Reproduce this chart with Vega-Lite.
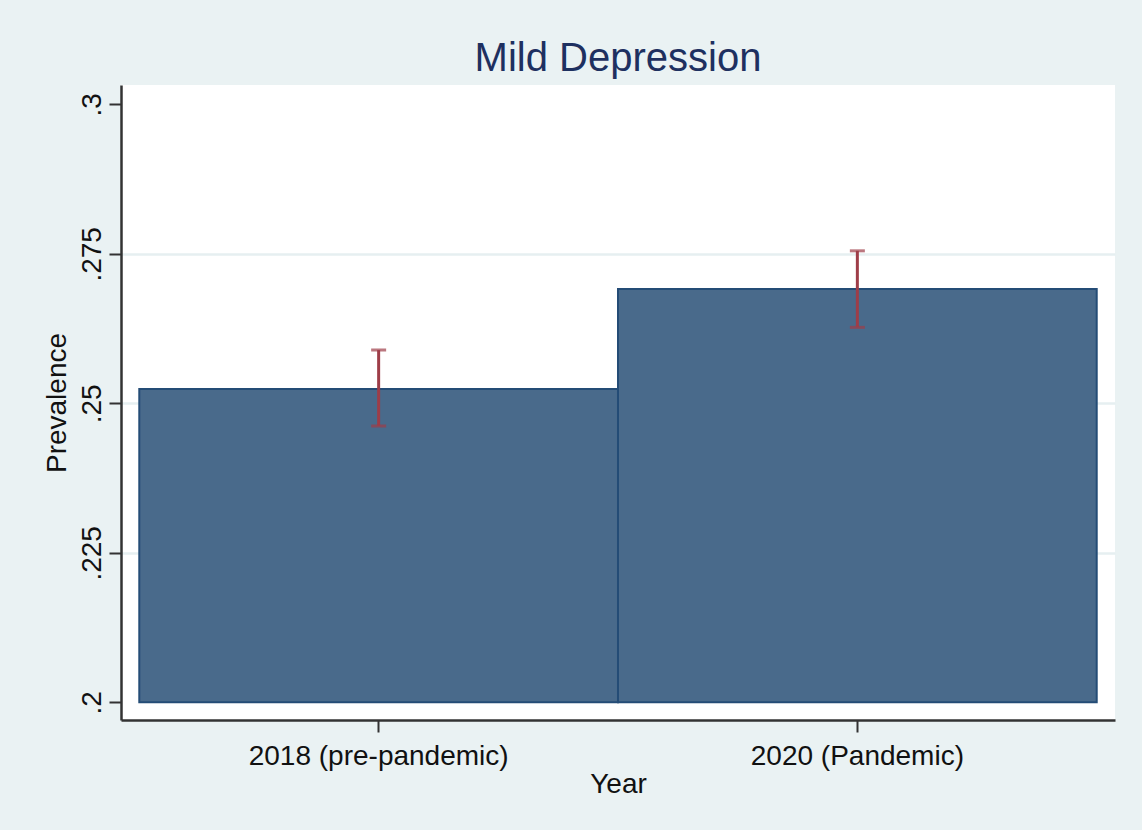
{
  "$schema": "https://vega.github.io/schema/vega-lite/v6.json",
  "width": 994,
  "height": 635,
  "autosize": {"type": "none"},
  "padding": {"left": 121, "top": 85, "right": 27, "bottom": 110},
  "background": "#eaf2f3",
  "config": {
    "font": "Liberation Sans",
    "view": {"fill": "#ffffff", "stroke": null}
  },
  "title": {
    "text": "Mild Depression",
    "font": "Liberation Sans",
    "fontSize": 40,
    "fontWeight": "normal",
    "color": "#1e3060",
    "anchor": "middle",
    "frame": "group",
    "baseline": "alphabetic",
    "offset": -26
  },
  "data": {
    "values": [
      {"year": "2018 (pre-pandemic)", "prev": 0.2524, "lo": 0.2462, "hi": 0.2589},
      {"year": "2020 (Pandemic)", "prev": 0.2691, "lo": 0.2627, "hi": 0.2755}
    ]
  },
  "encoding": {
    "x": {
      "field": "year",
      "type": "nominal",
      "sort": null,
      "scale": {"paddingInner": 0, "paddingOuter": 0.0382},
      "axis": {
        "title": "Year",
        "labelAngle": 0,
        "labelFontSize": 28,
        "labelLimit": 0,
        "labelColor": "#111111",
        "labelBaseline": "alphabetic",
        "labelPadding": 32,
        "tickSize": 12,
        "tickWidth": 2,
        "tickColor": "#333333",
        "domainColor": "#333333",
        "domainWidth": 2.5,
        "titleFontSize": 28,
        "titleFontWeight": "normal",
        "titleColor": "#111111",
        "titlePadding": 0,
        "grid": false
      }
    }
  },
  "layer": [
    {
      "mark": {"type": "bar", "fill": "#496a8b", "stroke": "#244c76", "strokeWidth": 2},
      "encoding": {
        "y": {
          "field": "prev",
          "type": "quantitative",
          "scale": {"domain": [0.19704, 0.30323], "nice": false, "zero": false},
          "axis": {
            "title": "Prevalence",
            "values": [0.2, 0.225, 0.25, 0.275, 0.3],
            "labelExpr": "substring(format(datum.value, '.3~f'), 1)",
            "labelAngle": -90,
            "labelAlign": "center",
            "labelBaseline": "alphabetic",
            "labelFontSize": 28,
            "labelColor": "#111111",
            "labelPadding": 9,
            "tickSize": 12,
            "tickWidth": 2,
            "tickColor": "#333333",
            "domainColor": "#333333",
            "domainWidth": 2.5,
            "grid": true,
            "gridColor": "#e6eff1",
            "gridWidth": 2.5,
            "gridOpacity": {"condition": {"test": "datum.value < 0.21 || datum.value > 0.29", "value": 0}, "value": 1},
            "titleFontSize": 28,
            "titleFontWeight": "normal",
            "titleColor": "#111111",
            "titlePadding": 7
          }
        },
        "y2": {"datum": 0.2}
      }
    },
    {
      "mark": {"type": "rule", "color": "#9e3d48", "strokeWidth": 3},
      "encoding": {
        "y": {"field": "lo", "type": "quantitative"},
        "y2": {"field": "hi"}
      }
    },
    {
      "mark": {"type": "tick", "color": "#9e3d48", "thickness": 3, "size": 15},
      "encoding": {"y": {"field": "lo", "type": "quantitative"}}
    },
    {
      "mark": {"type": "tick", "color": "#9e3d48", "thickness": 3, "size": 15},
      "encoding": {"y": {"field": "hi", "type": "quantitative"}}
    }
  ]
}
